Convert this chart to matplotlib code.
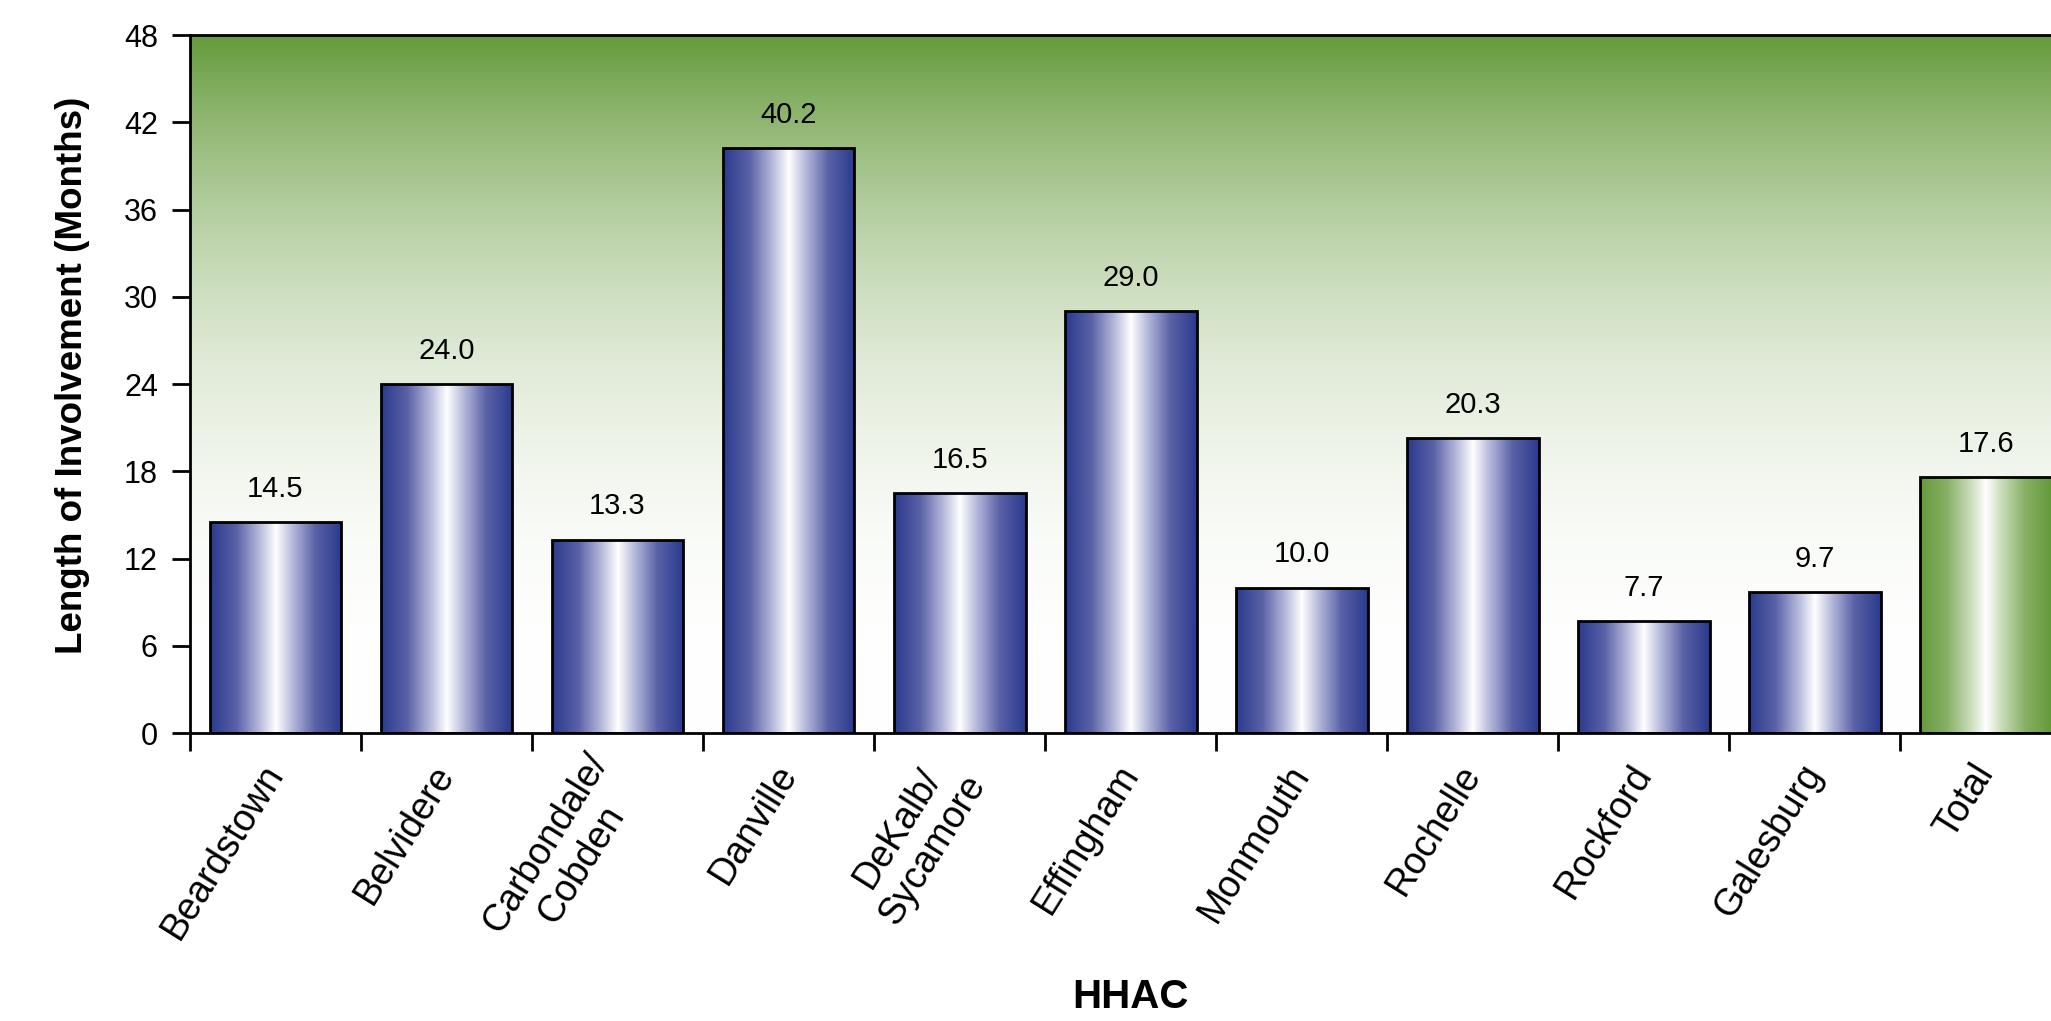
import numpy as np
import matplotlib.pyplot as plt
from matplotlib.colors import LinearSegmentedColormap

plt.rcParams['font.family'] = ['Liberation Sans', 'DejaVu Sans']

sites = ['Beardstown', 'Belvidere', 'Carbondale/\nCobden', 'Danville',
         'DeKalb/\nSycamore', 'Effingham', 'Monmouth', 'Rochelle',
         'Rockford', 'Galesburg', 'Total']
months = [14.5, 24.0, 13.3, 40.2, 16.5, 29.0, 10.0, 20.3, 7.7, 9.7, 17.6]
yticks = [0, 6, 12, 18, 24, 30, 36, 42, 48]

blue = '#2a3a8e'
green = '#64993a'
blue_cm = LinearSegmentedColormap.from_list(
    'bl', [(0, blue), (0.2, '#5a62a6'), (0.38, '#b9bcdc'), (0.5, 'white'),
           (0.62, '#b9bcdc'), (0.8, '#5a62a6'), (1, blue)])
green_cm = LinearSegmentedColormap.from_list(
    'gr', [(0, green), (0.2, '#86b064'), (0.38, '#c9dcb8'), (0.5, 'white'),
           (0.62, '#c9dcb8'), (0.8, '#86b064'), (1, green)])

fig = plt.figure(figsize=(20.51, 10.21), dpi=100)
ax = fig.add_axes([0.0926, 0.282, 0.9174, 0.6837])

n = len(sites)
ax.set_xlim(0, n)
ax.set_ylim(0, 48)

# background: green at the top fading to white
t = np.linspace(0, 1, 256).reshape(-1, 1) ** 2.5
rgb_top = np.array([101, 154, 58]) / 255.0
bg = 1 - t[..., None] * (1 - rgb_top)
bg = np.repeat(bg, 2, axis=1)
ax.imshow(bg, extent=[0, n, 0, 48], origin='lower', aspect='auto', zorder=0)

xs = np.arange(n) + 0.5
bars = ax.bar(xs, months, width=0.77, facecolor='none', edgecolor='black',
              linewidth=2, zorder=3)
grad = np.linspace(0, 1, 256).reshape(1, -1)
for i, (b, v) in enumerate(zip(bars, months)):
    cm = green_cm if sites[i] == 'Total' else blue_cm
    x0 = b.get_x()
    im = ax.imshow(grad, extent=[x0, x0 + b.get_width(), 0, v], cmap=cm,
                   aspect='auto', zorder=2)
    im.set_clip_path(b)
    ax.annotate(f'{v:.1f}', (b.get_x() + b.get_width() / 2, v), xytext=(0, 24),
                textcoords='offset points', ha='center', va='center', fontsize=21)

ax.set_yticks(yticks)
ax.set_xticks(np.arange(n))
ax.set_xticks(xs, minor=True)
ax.set_xticklabels([])
ax.set_xticklabels(sites, minor=True, rotation=58, ha='right', va='center',
                   rotation_mode='anchor', multialignment='center', fontsize=27)
ax.tick_params(axis='x', which='minor', length=0, pad=25)
ax.tick_params(axis='x', which='major', length=13, width=2, direction='out')
ax.tick_params(axis='y', length=13, width=2, labelsize=22, pad=10)
for s in ax.spines.values():
    s.set_linewidth(2)

ax.set_ylabel('Length of Involvement (Months)', fontsize=26.5, fontweight='bold')
ax.yaxis.set_label_coords(-0.0531, 0.512)
ax.set_xlabel('HHAC', fontsize=29, fontweight='bold')
ax.xaxis.set_label_coords(0.5, -0.351)

fig.savefig('out.png', dpi=100)
